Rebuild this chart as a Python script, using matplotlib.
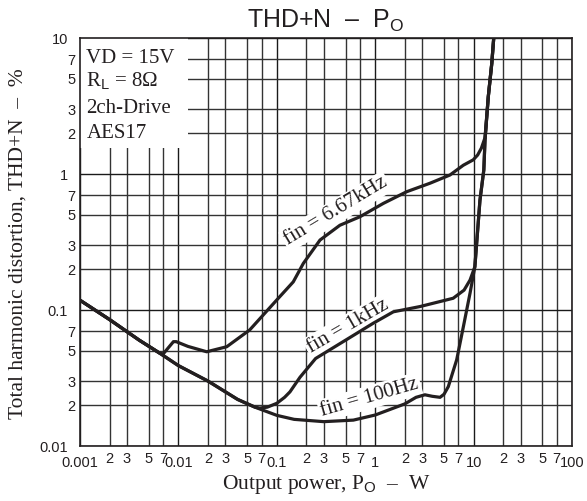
import matplotlib
matplotlib.use("Agg")
import matplotlib.pyplot as plt
from matplotlib.patches import Rectangle

plt.rcParams['mathtext.fontset'] = 'custom'
plt.rcParams['mathtext.rm'] = 'Liberation Sans'
plt.rcParams['mathtext.it'] = 'Liberation Sans:italic'
plt.rcParams['mathtext.bf'] = 'Liberation Sans:bold'

# ---------------- data ----------------
x_100hz = [0.001, 0.002, 0.004, 0.0065, 0.01, 0.02, 0.04, 0.06, 0.1, 0.15, 0.3, 0.6,
           1.0, 2.0, 2.6, 3.2, 3.8, 4.56, 5.0, 5.53, 6.73, 7.86, 9.2, 10.3, 11.6,
           12.7, 13.06, 14.1, 15.3, 16.1]
y_100hz = [0.118, 0.085, 0.060, 0.048, 0.039, 0.030, 0.022, 0.0193, 0.0168, 0.0157,
           0.0151, 0.0155, 0.0169, 0.0204, 0.0228, 0.0238, 0.0232, 0.0228, 0.0240,
           0.0273, 0.043, 0.075, 0.133, 0.208, 0.64, 1.07, 1.78, 3.7, 6.5, 10.5]

x_1khz = [0.001, 0.002, 0.004, 0.0065, 0.01, 0.02, 0.04, 0.06, 0.067, 0.08, 0.1,
          0.12, 0.136, 0.172, 0.248, 0.5, 0.957, 1.53, 2.85, 6.2, 8.0, 9.2, 10.3,
          11.6, 12.7, 13.06, 14.1, 15.3, 16.1]
y_1khz = [0.118, 0.085, 0.060, 0.048, 0.039, 0.030, 0.022, 0.0193, 0.019, 0.0193,
          0.0206, 0.0228, 0.025, 0.032, 0.044, 0.060, 0.080, 0.097, 0.106, 0.122,
          0.140, 0.166, 0.208, 0.64, 1.07, 1.78, 3.7, 6.5, 10.5]

x_667khz = [0.001, 0.002, 0.004, 0.0065, 0.007, 0.0089, 0.0095, 0.0125, 0.0194,
            0.031, 0.053, 0.1, 0.147, 0.186, 0.275, 0.438, 0.7, 1.21, 2.09, 3.6,
            5.75, 7.86, 9.9, 11.0, 12.0, 13.06, 14.1, 15.3, 16.1]
y_667khz = [0.118, 0.085, 0.060, 0.048, 0.0475, 0.0585, 0.0585, 0.054, 0.0493,
            0.0537, 0.0713, 0.1186, 0.161, 0.22, 0.327, 0.42, 0.485, 0.608, 0.741,
            0.855, 0.983, 1.16, 1.27, 1.38, 1.55, 1.85, 3.7, 6.5, 10.5]

x_major = [0.001, 0.01, 0.1, 1, 10, 100]
x_major_labels = ["0.001", "0.01", "0.1", "1", "10", "100"]
x_minor = [m * d for d in [0.001, 0.01, 0.1, 1, 10] for m in (2, 3, 5, 7)]
x_minor_labels = ["2", "3", "5", "7"] * 5

y_major = [0.01, 0.1, 1, 10]
y_major_labels = ["0.01", "0.1", "1", "10"]
y_minor = [m * d for d in [0.01, 0.1, 1] for m in (2, 3, 5, 7)]
y_minor_labels = ["2", "3", "5", "7"] * 3

legend_lines = ["VD = 15V", r"R$_\mathrm{L}$ = 8Ω", "2ch-Drive", "AES17"]

# ---------------- figure ----------------
W, H = 587, 501
fig = plt.figure(figsize=(W / 100, H / 100), dpi=100)
ax = fig.add_axes([80 / W, 1 - 446 / H, 492 / W, 408 / H])
ax.set_xscale('log')
ax.set_yscale('log')
ax.set_xlim(0.001, 100)
ax.set_ylim(0.01, 10)

sans = 'Liberation Sans'
serif = 'Liberation Serif'
ink = '#231f20'

ax.set_xticks(x_major, labels=x_major_labels)
ax.set_xticks(x_minor, labels=x_minor_labels, minor=True)
ax.set_yticks(y_major, labels=y_major_labels)
ax.set_yticks(y_minor, labels=y_minor_labels, minor=True)
for lab in ax.get_xticklabels(which='both') + ax.get_yticklabels(which='both'):
    lab.set_fontfamily(sans)
    lab.set_fontsize(10.5)
    lab.set_color(ink)
ax.tick_params(which='both', length=0)
ax.tick_params(axis='x', which='major', pad=7.5)
ax.tick_params(axis='x', which='minor', pad=4.5)
ax.tick_params(axis='y', which='major', pad=8.5)
ax.tick_params(axis='y', which='minor', pad=3.5)

ax.set_axisbelow(True)
ax.grid(which='major', color='#1a1a1a', lw=1.0)
ax.grid(which='minor', color='#333333', lw=1.0)
for s in ax.spines.values():
    s.set_color(ink)
    s.set_linewidth(1.2)

# curves
for xs, ys in [(x_100hz, y_100hz), (x_1khz, y_1khz), (x_667khz, y_667khz)]:
    ax.plot(xs, ys, color=ink, lw=2.3, solid_capstyle='round',
            solid_joinstyle='round', zorder=3, clip_on=True)

# legend box
ax.add_patch(Rectangle((0, 0.730), 0.2195, 0.270, transform=ax.transAxes,
                       facecolor='white', edgecolor='none', zorder=1))
for yb, t in zip([0.939, 0.880, 0.816, 0.755], legend_lines):
    ax.text(0.013, yb, t, transform=ax.transAxes, fontfamily=serif, fontsize=15,
            va='baseline', ha='left', color=ink, zorder=4)

# curve labels
box = dict(facecolor='white', edgecolor='none', pad=1.5)
ax.text(0.40, 0.53, "fin = 6.67kHz", rotation=31, rotation_mode='anchor',
        ha='center', va='center', fontfamily=serif, fontsize=15, color=ink,
        bbox=box, zorder=2)
ax.text(0.53, 0.076, "fin = 1kHz", rotation=30, rotation_mode='anchor',
        ha='center', va='center', fontfamily=serif, fontsize=15, color=ink,
        bbox=box, zorder=2)
ax.text(0.88, 0.0228, "fin = 100Hz", rotation=16, rotation_mode='anchor',
        ha='center', va='center', fontfamily=serif, fontsize=15, color=ink,
        bbox=box, zorder=2)

# titles / axis labels
fig.text(326 / W, 1 - 28 / H, r"THD+N  –  P$_\mathrm{O}$", ha='center', va='baseline',
         fontfamily=sans, fontsize=18, color=ink)
fig.text(326 / W, 1 - 489 / H, r"Output power, P$_\mathrm{O}$  –  W", ha='center',
         va='baseline', fontfamily=serif, fontsize=15.5, color=ink)
fig.text(18 / W, 1 - 244 / H, "Total harmonic distortion, THD+N  –  %", rotation=90,
         ha='center', va='center', fontfamily=serif, fontsize=15.5, color=ink)

fig.savefig("out.png", dpi=100)
